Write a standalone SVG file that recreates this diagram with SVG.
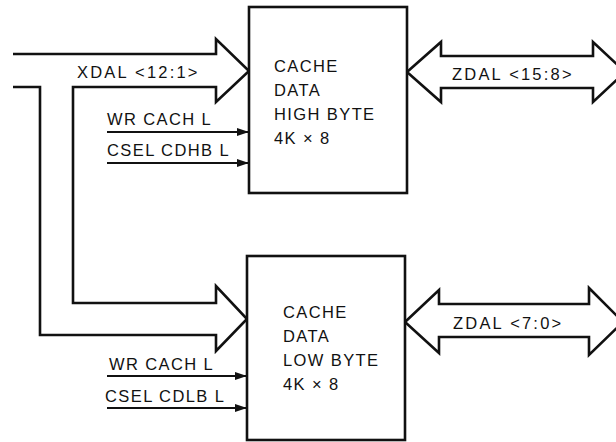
<svg xmlns="http://www.w3.org/2000/svg" width="616" height="442" viewBox="0 0 616 442">
<style>
  .ln { fill: none; stroke: #111; stroke-width: 2.6; stroke-linejoin: miter; }
  .bus { fill: #fff; stroke: #111; stroke-width: 2.6; stroke-linejoin: miter; }
  .box { fill: #fff; stroke: #111; stroke-width: 2.6; }
  .sig { fill: none; stroke: #111; stroke-width: 1.8; }
  text { font-family: "Liberation Sans", Arial, sans-serif; font-size: 16.5px; fill: #111; letter-spacing: 1.4px; }
  .buslbl { letter-spacing: 2.2px; }
</style>
<defs>
  <marker id="arr" viewBox="0 0 12 8" refX="12" refY="4" markerWidth="12" markerHeight="8" markerUnits="userSpaceOnUse" orient="auto">
    <path d="M0,0 L12,4 L0,8 Z" fill="#111"/>
  </marker>
</defs>
<rect width="616" height="442" fill="#fff"/>

<g id="connectors">
  <path id="xdal-bus" class="ln" d="M13,54 H216 V39 L249,71 L216,102 V87 H73 V303 H216 V286 L247,319 L216,351 V335 H40 V87 H13"/>
  <text class="buslbl" x="77" y="78">XDAL &lt;12:1&gt;</text>

  <path id="zdal-high" class="bus" d="M407,72 L441,42 V56 H593 V42 L625,72 L593,102 V88 H441 V102 Z"/>
  <text class="buslbl" x="452" y="80">ZDAL &lt;15:8&gt;</text>

  <path id="zdal-low" class="bus" d="M405,322 L439,290 V304 H589 V288 L623,322 L589,355 V337 H439 V353 Z"/>
  <text class="buslbl" x="453" y="329">ZDAL &lt;7:0&gt;</text>

  <line class="sig" x1="107" y1="132" x2="249" y2="132" marker-end="url(#arr)"/>
  <text x="107" y="125">WR CACH L</text>
  <line class="sig" x1="107" y1="163" x2="249" y2="163" marker-end="url(#arr)"/>
  <text x="107" y="156">CSEL CDHB L</text>

  <line class="sig" x1="107" y1="376" x2="247" y2="376" marker-end="url(#arr)"/>
  <text x="109" y="370">WR CACH L</text>
  <line class="sig" x1="107" y1="408" x2="247" y2="408" marker-end="url(#arr)"/>
  <text x="105" y="402">CSEL CDLB L</text>
</g>

<g id="cache-high">
  <rect class="box" x="249" y="7" width="158" height="186"/>
  <text x="274" y="72">CACHE</text>
  <text x="274" y="96">DATA</text>
  <text x="274" y="120">HIGH BYTE</text>
  <text x="274" y="144">4K × 8</text>
</g>

<g id="cache-low">
  <rect class="box" x="247" y="256" width="158" height="184"/>
  <text x="283" y="318">CACHE</text>
  <text x="283" y="342">DATA</text>
  <text x="283" y="366">LOW BYTE</text>
  <text x="283" y="390">4K × 8</text>
</g>
</svg>
